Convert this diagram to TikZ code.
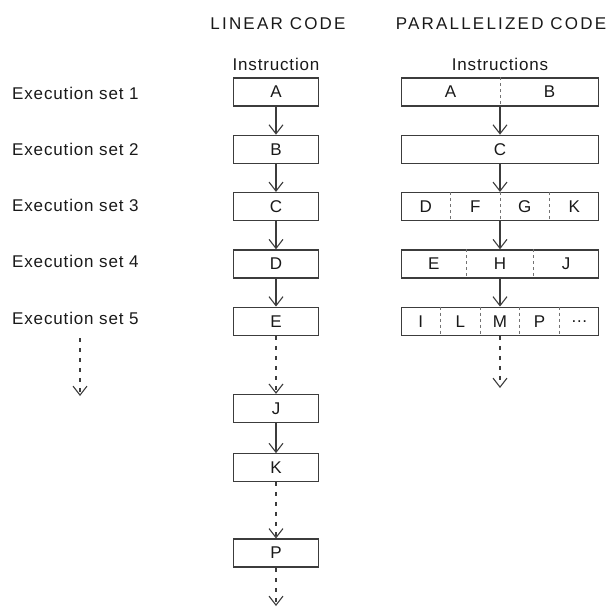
\documentclass[tikz,border=0pt]{standalone}
\usepackage{fontspec}
\setmainfont{Liberation Sans}[LetterSpace=5]
\usepackage{tikz}
\usetikzlibrary{positioning}
\usetikzlibrary{arrows.meta}
\usetikzlibrary{calc}
\definecolor{linecolor}{RGB}{60,60,60}

\begin{document}
\begin{tikzpicture}[
    x=1pt, y=-1pt,
    node distance=28pt,
    every node/.style={font=\fontsize{17}{19}\selectfont, text=black!90},
    head/.style={font=\fontsize{17}{19}\selectfont\addfontfeature{LetterSpace=13}},
    lbox/.style={rectangle, draw=linecolor, line width=1.3pt, minimum width=85pt, minimum height=28pt, inner sep=0pt},
    pbox/.style={lbox, minimum width=197pt},
    cell/.style={inner sep=0pt},
    setlabel/.style={anchor=west, inner sep=0pt},
    divider/.style={draw=black!55, line width=0.9pt, dash pattern=on 3pt off 3pt},
    arrow/.style={-{Straight Barb[length=9pt, width=14pt, line width=1.1pt]}, line width=1.1pt, draw=linecolor},
    dotarrow/.style={arrow, dash pattern=on 4pt off 6pt}
]
\useasboundingbox (0,0) rectangle (611,616);

% column headings
\node[head] (linhead) at (278,24) {LINEAR CODE};
\node[head] (parhead) at (501,24) {PARALLELIZED CODE};
\node (lininstr) at (276,64) {Instruction};
\node (parinstr) at (500,64) {Instructions};

% linear code
\node[lbox] (A) at (276,92) {A};
\node[lbox, below=of A] (B) {B};
\node[lbox, below=of B] (C) {C};
\node[lbox, below=of C] (D) {D};
\node[lbox, below=of D] (E) {E};
\node[lbox, below=58pt of E] (J) {J};
\node[lbox, below=30pt of J] (K) {K};
\node[lbox, below=56pt of K] (P) {P};
\coordinate (linend) at (276,606);

\draw[arrow] (A) -- (B);
\draw[arrow] (B) -- (C);
\draw[arrow] (C) -- (D);
\draw[arrow] (D) -- (E);
\draw[dotarrow] (E) -- (J);
\draw[arrow] (J) -- (K);
\draw[dotarrow] (K) -- (P);
\draw[dotarrow] (P) -- (linend);

% parallelized code
\node[pbox] (ab) at (500,92) {};
\node[pbox, below=of ab] (c) {C};
\node[pbox, below=of c] (dfgk) {};
\node[pbox, below=of dfgk] (ehj) {};
\node[pbox, below=of ehj] (ilmp) {};
\coordinate (parend) at (500,388);

\foreach \t [count=\i] in {A,B}
  \node[cell] (ab\i) at ($(ab.west)!{(\i-0.5)/2}!(ab.east)$) {\t};
\foreach \t [count=\i] in {D,F,G,K}
  \node[cell] (dfgk\i) at ($(dfgk.west)!{(\i-0.5)/4}!(dfgk.east)$) {\t};
\foreach \t [count=\i] in {E,H,J}
  \node[cell] (ehj\i) at ($(ehj.west)!{(\i-0.5)/3}!(ehj.east)$) {\t};
\foreach \t [count=\i] in {I,L,M,P,\ldots}
  \node[cell] (ilmp\i) at ($(ilmp.west)!{(\i-0.5)/5}!(ilmp.east)$) {\t};

% dotted splits between instructions
\draw[divider] (ab.north) -- (ab.south);
\foreach \f in {0.25,0.5,0.75}
  \draw[divider] ($(dfgk.north west)!\f!(dfgk.north east)$) -- ($(dfgk.south west)!\f!(dfgk.south east)$);
\foreach \f in {0.3333,0.6667}
  \draw[divider] ($(ehj.north west)!\f!(ehj.north east)$) -- ($(ehj.south west)!\f!(ehj.south east)$);
\foreach \f in {0.2,0.4,0.6,0.8}
  \draw[divider] ($(ilmp.north west)!\f!(ilmp.north east)$) -- ($(ilmp.south west)!\f!(ilmp.south east)$);

\draw[arrow] (ab) -- (c);
\draw[arrow] (c) -- (dfgk);
\draw[arrow] (dfgk) -- (ehj);
\draw[arrow] (ehj) -- (ilmp);
\draw[dotarrow] (ilmp) -- (parend);

% execution sets
\node[setlabel] (set1) at (12,93) {Execution set 1};
\node[setlabel] (set2) at (12,149) {Execution set 2};
\node[setlabel] (set3) at (12,205) {Execution set 3};
\node[setlabel] (set4) at (12,261) {Execution set 4};
\node[setlabel] (set5) at (12,318) {Execution set 5};
\coordinate (moretop) at (80,338);
\coordinate (moreend) at (80,396);
\draw[dotarrow] (moretop) -- (moreend);

\end{tikzpicture}
\end{document}
